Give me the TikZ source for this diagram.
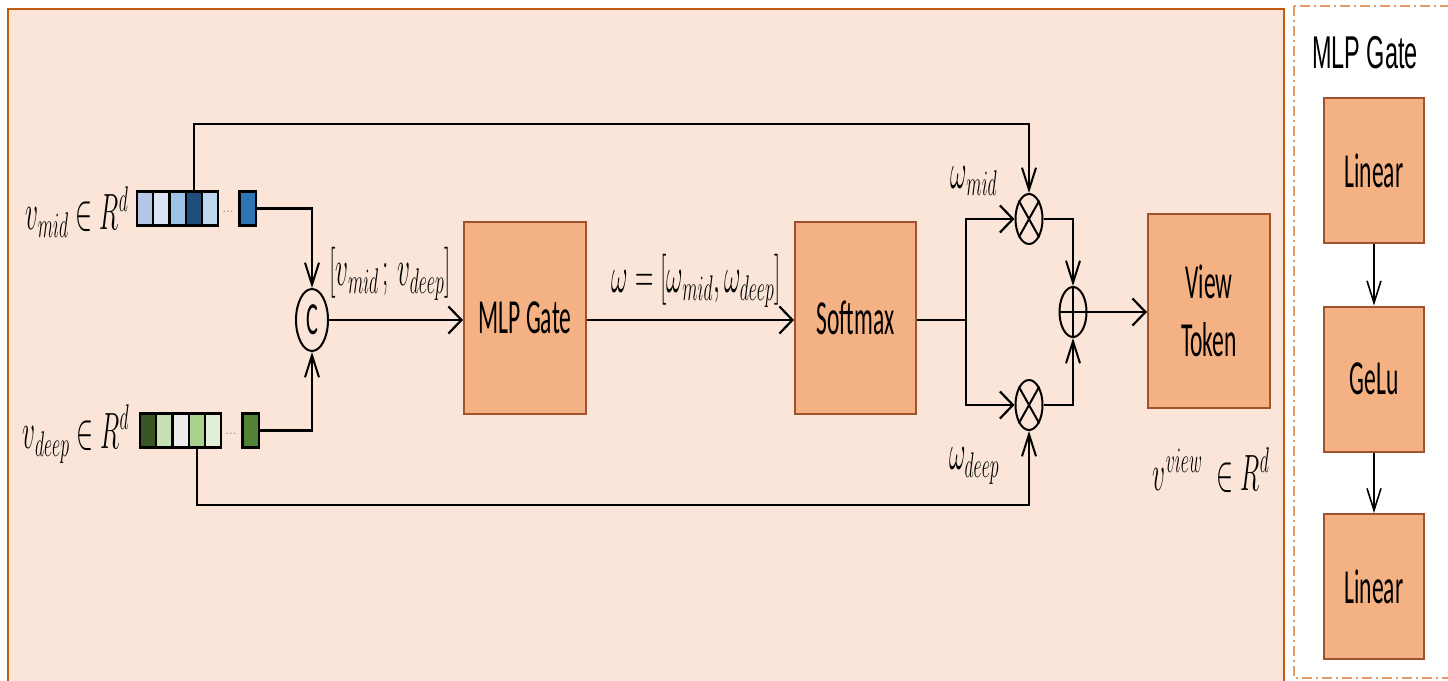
\RequirePackage{fix-cm}
\documentclass[tikz,border=0pt]{standalone}
\usepackage{fontspec}
\usepackage{graphicx}
\usetikzlibrary{arrows.meta,shapes.geometric,calc}
\newfontfamily\boxfont[FakeStretch=0.48]{Carlito}
\newfontfamily\titlefont[FakeStretch=0.51]{Liberation Sans}
\newcommand{\sqz}[1]{\scalebox{0.5}[1]{#1}}
\definecolor{panel}{HTML}{FAE5D8}
\definecolor{panelborder}{HTML}{C55A11}
\definecolor{dashborder}{HTML}{E39A66}
\definecolor{boxfill}{HTML}{F4B183}
\definecolor{boxborder}{HTML}{A0522D}
\definecolor{b1}{HTML}{B4C7E7}
\definecolor{b2}{HTML}{DAE3F3}
\definecolor{b3}{HTML}{9DC3E6}
\definecolor{b4}{HTML}{1F4E79}
\definecolor{b5}{HTML}{BDD7EE}
\definecolor{b6}{HTML}{2E75B6}
\definecolor{g1}{HTML}{375623}
\definecolor{g2}{HTML}{C5E0B4}
\definecolor{g3}{HTML}{EDEDED}
\definecolor{g4}{HTML}{A9D18E}
\definecolor{g5}{HTML}{E2F0D9}
\definecolor{g6}{HTML}{548235}
\tikzset{
  gatebox/.style={draw=boxborder, fill=boxfill, line width=2pt, inner sep=0pt,
    font=\fontsize{49}{56}\selectfont\boxfont, align=center},
  cell/.style={draw=black, line width=2.2pt, minimum width=16.2pt, minimum height=34pt, inner sep=0pt},
  op/.style={draw=black, ellipse, line width=2pt, minimum width=27pt, minimum height=50pt, inner sep=0pt},
  conn/.style={draw=black, line width=2.4pt},
  harrow/.style={conn, -{Straight Barb[length=13pt,width=27pt,line width=2.2pt]}},
  varrow/.style={conn, -{Straight Barb[length=22pt,width=14pt,line width=2pt]}},
  thinv/.style={draw=black, line width=1.6pt, -{Straight Barb[length=22pt,width=14pt,line width=1.6pt]}},
  mathlbl/.style={inner sep=0pt, font=\fontsize{51}{60}\selectfont},
}
\begin{document}
\begin{tikzpicture}[x=1pt,y=-1pt]
\useasboundingbox (0,0) rectangle (1448,680);
\fill[white] (0,0) rectangle (1448,680);
% main panel
\draw[draw=panelborder, fill=panel, line width=2.2pt] (8,9) rectangle (1284,700);
% right panel
\draw[draw=dashborder, line width=2pt, dash pattern=on 10pt off 4pt on 2pt off 4pt] (1294,6) rectangle (1470,678);

% vectors
\foreach \c [count=\i from 0] in {b1,b2,b3,b4,b5}
  \node[cell, fill=\c] (m\i) at ({137+8.1+16.2*\i},208.5) {};
\node[cell, fill=b6] (mlast) at (247.5,208.5) {};
\node[inner sep=0pt, text=gray, font=\fontsize{14}{14}\selectfont] (mdots) at (228,212) {...};
\foreach \c [count=\i from 0] in {g1,g2,g3,g4,g5}
  \node[cell, fill=\c] (d\i) at ({140+8.1+16.2*\i},430.5) {};
\node[cell, fill=g6] (dlast) at (250.5,430.5) {};
\node[inner sep=0pt, text=gray, font=\fontsize{14}{14}\selectfont] (ddots) at (231,434) {...};

% labels of vectors
\node[mathlbl] (lmid) at (77,212) {\sqz{$v_{mid}\in R^d$}};
\node[mathlbl] (ldeep) at (76,434) {\sqz{$v_{deep}\in R^d$}};

% concat
\node[op, minimum width=32pt, minimum height=62pt] (cat) at (312,320) {};
\node[inner sep=0pt, font=\fontsize{46}{46}\selectfont\boxfont] at (312,320) {C};

% boxes
\node[gatebox, minimum width=122pt, minimum height=192pt] (mlp) at (525,318) {MLP Gate};
\node[gatebox, minimum width=121pt, minimum height=192pt] (sm) at (855.5,318) {Softmax};
\node[gatebox, minimum width=122pt, minimum height=194pt, font=\fontsize{49}{58}\selectfont\boxfont] (vt) at (1209,311) {View\\Token};

% operators
\node[op] (o1) at (1029,219) {};
\node[op] (o2) at (1029,405) {};
\node[op] (pl) at (1073,312) {};
\draw[line width=2pt] (o1.north west) -- (o1.south east) (o1.north east) -- (o1.south west);
\draw[line width=2pt] (o2.north west) -- (o2.south east) (o2.north east) -- (o2.south west);
\draw[line width=2pt] (pl.north) -- (pl.south) (pl.west) -- (pl.east);

% coordinates
\coordinate (topy) at (0,124);
\coordinate (boty) at (0,505);
\coordinate (splitx) at (966,0);

% connectors
\draw[varrow] (m3.north) -- (m3.north |- topy) -| (o1.north);
\draw[varrow] (d3.south) -- (d3.south |- boty) -| (o2.south);
\draw[varrow] (mlast.east) -| (cat.north);
\draw[varrow] (dlast.east) -| (cat.south);
\draw[harrow] (cat.east) -- (cat.east -| mlp.west);
\draw[harrow] (mlp.east |- cat.east) -- (sm.west |- cat.east);
\draw[conn] (sm.east |- cat.east) -- (splitx |- cat.east);
\draw[harrow] (splitx |- cat.east) |- (o1.west);
\draw[harrow] (splitx |- cat.east) |- (o2.west);
\draw[varrow] (o1.east) -| (pl.north);
\draw[varrow] (o2.east) -| (pl.south);
\draw[harrow] (pl.east) -- (pl.east -| vt.west);

% connector labels
\node[mathlbl] (lcat) at (390,274) {\sqz{$[v_{mid}\,;\,v_{deep}]$}};
\node[mathlbl] (lw) at (696,281) {\sqz{$\omega = [\omega_{mid}, \omega_{deep}]$}};
\node[mathlbl] (lwm) at (974,181) {\sqz{$\omega_{mid}$}};
\node[mathlbl] (lwd) at (974,466) {\sqz{$\omega_{deep}$}};
\node[mathlbl] (lview) at (1211,470) {\sqz{$v^{view}\;\in R^d$}};

% right panel
\node[inner sep=0pt, font=\fontsize{46}{50}\selectfont\titlefont] (title) at (1365,53) {MLP Gate};
\node[gatebox, minimum width=100pt, minimum height=145pt] (lin1) at (1374,170.5) {Linear};
\node[gatebox, minimum width=100pt, minimum height=145pt] (gelu) at (1374,379) {GeLu};
\node[gatebox, minimum width=100pt, minimum height=145pt] (lin2) at (1374,586.5) {Linear};
\draw[thinv] (lin1.south) -- (gelu.north);
\draw[thinv] (gelu.south) -- (lin2.north);
\end{tikzpicture}
\end{document}
